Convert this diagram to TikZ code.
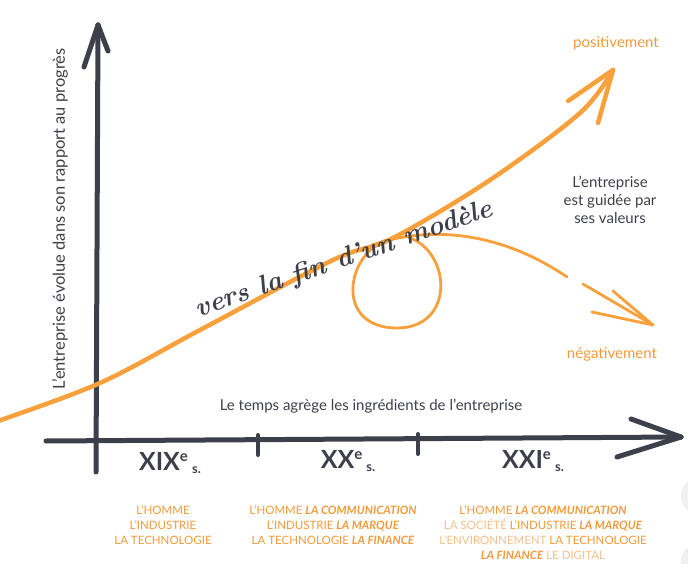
\documentclass[tikz,border=0pt]{standalone}
\usepackage{fontspec}
\setsansfont{Lato}
\renewcommand{\familydefault}{\sfdefault}
\definecolor{encre}{HTML}{3D3F4B}
\definecolor{trait}{HTML}{F7A03C}
\definecolor{texteorange}{HTML}{F29A3A}
\definecolor{orangepale}{HTML}{F7BF8C}
\newcommand{\fort}[1]{\textbf{\textit{#1}}}
\newcommand{\pale}[1]{\textcolor{orangepale}{#1}}
\newcommand{\siecl}[1]{#1\raisebox{0.35em}{\fontsize{15}{15}\selectfont e}\,\raisebox{-0.1em}{\fontsize{13}{13}\selectfont s.}}
\begin{document}
\begin{tikzpicture}[x=1pt,y=-1pt,
    axe/.style={encre,line width=5pt,line cap=round},
    courbe/.style={trait,line width=4.5pt,line cap=round},
    boucle/.style={trait,line width=2.8pt,line cap=round},
    legende/.style={encre,font=\fontsize{15}{18}\selectfont,align=center},
    extreme/.style={texteorange,font=\fontsize{15}{18}\selectfont},
    siecle/.style={encre,font=\fontsize{25}{25}\selectfont\bfseries},
    colonne/.style={texteorange,font=\fontsize{11.5}{15}\selectfont,align=center,anchor=north}]
    \useasboundingbox (0,0) rectangle (688,564);
    % Eje Y
    \coordinate (ybas)  at (96,472);
    \coordinate (yhaut) at (98,25);
    \draw[axe] (ybas) -- (yhaut);
    \draw[axe] (yhaut) -- ++(-14,42);
    \draw[axe] (yhaut) -- ++(10,26);
    % Eje X
    \coordinate (xgauche) at (46,441);
    \coordinate (xdroite) at (681,437);
    \draw[axe] (xgauche) -- (xdroite);
    \draw[axe] (xdroite) -- ++(-50,-18);
    \draw[axe] (xdroite) -- ++(-64,20);
    % Separaciones de siglos
    \draw[axe,line width=4pt] (258,435) -- (258,455);
    \draw[axe,line width=4pt] (418,434) -- (418,454);
    % Siglos
    \node[siecle] (s19) at (170,463) {\siecl{XIX}};
    \node[siecle] (s20) at (348,461) {\siecl{XX}};
    \node[siecle] (s21) at (533,461) {\siecl{XXI}};
    % Textos de ejes
    \node[legende,font=\fontsize{16.5}{18}\selectfont,rotate=90] (progres) at (60,219) {L’entreprise évolue dans son rapport au progrès};
    \node[legende] (temps) at (371,406) {Le temps agrège les ingrédients de l’entreprise};
    % Curva principal
    \coordinate (pointe) at (613,70);
    \draw[courbe] plot[smooth,tension=0.55] coordinates
        {(-5,422) (100,383) (200,330) (333,260) (393,238) (490,180) (580,113) (pointe)};
    \draw[courbe] (pointe) -- (568,101);
    \draw[courbe] (pointe) -- (598,123);
    % Bucle y rama descendente
    \draw[boucle] (386,240) .. controls (345,256) and (335,328) .. (397,328)
        .. controls (455,328) and (452,252) .. (408,237);
    \draw[boucle] (372,245) .. controls (440,222) and (510,238) .. (567,277);
    \coordinate (fin) at (653,325);
    \draw[boucle] (583,284) -- (fin);
    \draw[boucle] (613,291) -- (fin);
    \draw[boucle] (592,312) -- (fin);
    % Texto manuscrito
    \node[encre,rotate=19,font=\rmfamily\itshape\bfseries\fontsize{27}{27}\selectfont] (modele) at (344,260) {vers la fin d’un modèle};
    % Anotaciones de la derecha
    \node[extreme] (positif) at (616,43) {positivement};
    \node[legende] (valeurs) at (610,200) {L’entreprise\\est guidée par\\ses valeurs};
    \node[extreme] (negatif) at (612,354) {négativement};
    % Columnas inferiores
    \node[colonne] (col1) at (163,502) {L’HOMME\\L’INDUSTRIE\\LA TECHNOLOGIE};
    \node[colonne] (col2) at (333,502) {L’HOMME \fort{LA COMMUNICATION}\\L’INDUSTRIE \fort{LA MARQUE}\\LA TECHNOLOGIE \fort{LA FINANCE}};
    \node[colonne] (col3) at (543,502) {L’HOMME \fort{LA COMMUNICATION}\\\pale{LA SOCIÉTÉ} L’INDUSTRIE \fort{LA MARQUE}\\\pale{L’ENVIRONNEMENT} LA TECHNOLOGIE\\\fort{LA FINANCE} \pale{LE DIGITAL}};
    % Bordes grises
    \fill[gray!12] (700,496) circle (19);
    \fill[gray!12] (700,562) circle (19);
\end{tikzpicture}
\end{document}
